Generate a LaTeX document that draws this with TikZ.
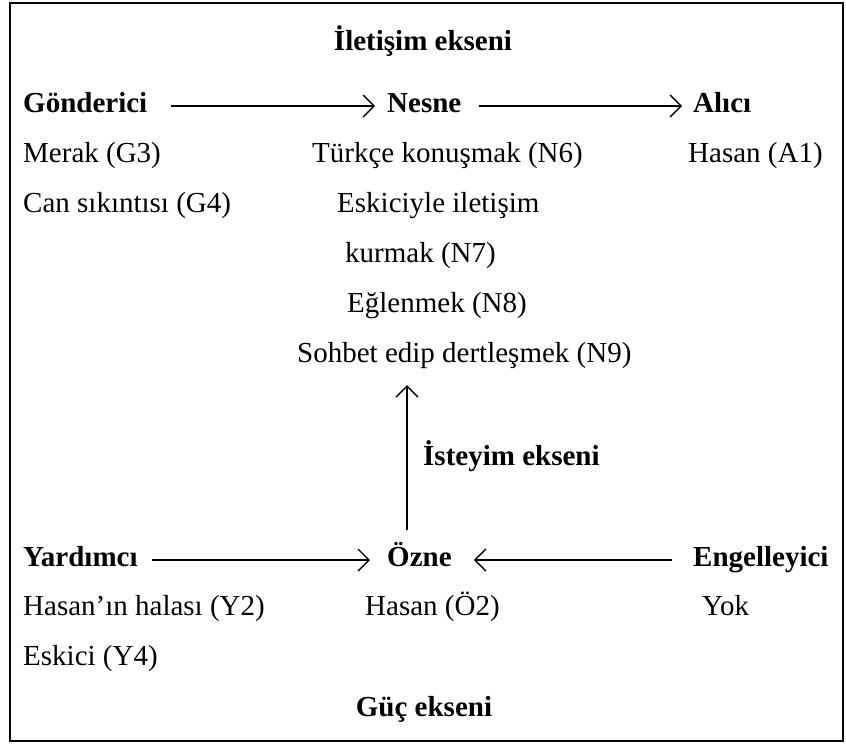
\documentclass[tikz,border=0pt]{standalone}
\usepackage{fontspec}
\setmainfont{Liberation Serif}
\usetikzlibrary{arrows.meta}
\newcommand\diagfont{\fontsize{29}{35}\selectfont}
\begin{document}
\begin{tikzpicture}[x=1pt,y=-1pt,
  txt/.style={anchor=base west,inner sep=0pt,font=\diagfont},
  lbl/.style={txt,font=\diagfont\bfseries},
  endpt/.style={text height=12pt,text depth=0pt},
  axis/.style={line width=1.4pt,-{Straight Barb[length=11pt,width=22pt]}},
  frame/.style={line width=1.6pt}]
\useasboundingbox (0,0) rectangle (846,744);
\draw[frame] (10,3) rectangle (843,741);

% communication axis
\node[lbl,anchor=base] (ilet) at (423,50) {İletişim ekseni};
\node[lbl,endpt] (gon) at (23,112) {Gönderici};
\node[lbl,endpt] (nesne) at (387,112) {Nesne};
\node[lbl,endpt] (alici) at (693,112) {Alıcı};
\draw[axis,shorten <=24pt,shorten >=12pt] (gon.east) -- (nesne.west);
\draw[axis,shorten <=17pt,shorten >=11pt] (nesne.east) -- (alici.west);

\node[txt] (g3) at (23,162) {Merak (G3)};
\node[txt] (g4) at (23,212) {Can sıkıntısı (G4)};
\node[txt] (n6) at (312,162) {Türkçe konuşmak (N6)};
\node[txt] (n7a) at (337,212) {Eskiciyle iletişim};
\node[txt] (n7b) at (345,262) {kurmak (N7)};
\node[txt] (n8) at (347,312) {Eğlenmek (N8)};
\node[txt,endpt] (n9) at (297,362) {Sohbet edip dertleşmek (N9)};
\node[txt] (a1) at (688,162) {Hasan (A1)};

% desire axis
\coordinate (vx) at (407,0);
\node[lbl] (istek) at (423,465) {İsteyim ekseni};

% power axis
\node[lbl,endpt] (yard) at (23,566) {Yardımcı};
\node[lbl,endpt] (ozne) at (387,566) {Özne};
\node[lbl,endpt] (engel) at (693,566) {Engelleyici};
\draw[axis,shorten <=14pt,shorten >=17pt] (yard.east) -- (ozne.west);
\draw[axis,shorten <=21pt,shorten >=22pt] (engel.west) -- (ozne.east);
\draw[axis,shorten <=24pt,shorten >=23pt] (vx |- ozne.north) -- (vx |- n9.south);

\node[txt] (y2) at (23,615) {Hasan’ın halası (Y2)};
\node[txt] (y4) at (23,665) {Eskici (Y4)};
\node[txt] (o2) at (365,615) {Hasan (Ö2)};
\node[txt] (yok) at (702,615) {Yok};
\node[lbl,anchor=base] (guc) at (424,716) {Güç ekseni};
\end{tikzpicture}
\end{document}
